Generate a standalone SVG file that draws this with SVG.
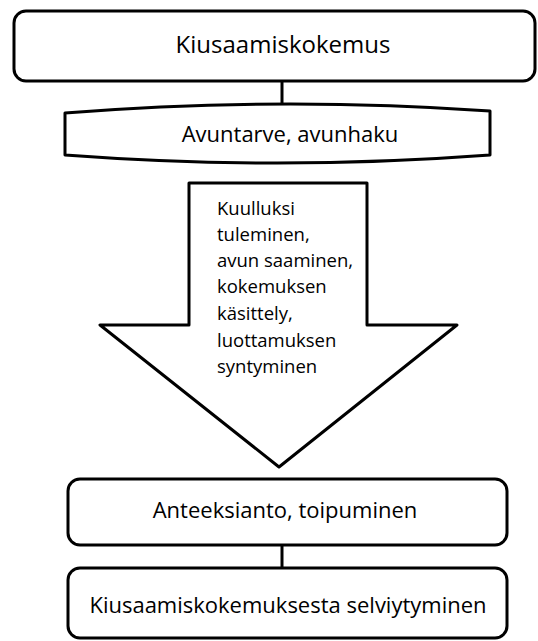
<svg xmlns="http://www.w3.org/2000/svg" width="538" height="641" viewBox="0 0 538 641">
<style>
.shape{fill:#fff;stroke:#000;stroke-width:3;stroke-linejoin:round}
.conn{stroke:#000;stroke-width:3;fill:none}
text{font-family:"Open Sans","Noto Sans","Liberation Sans",sans-serif;fill:#000}
.c{text-anchor:middle}
</style>
<rect width="538" height="641" fill="#fff"/>
<g id="connectors">
<line class="conn" x1="282" y1="82" x2="282" y2="106"/>
<line class="conn" x1="282" y1="545" x2="282" y2="568"/>
</g>
<g id="n1">
<rect class="shape" x="14" y="11" width="521" height="70" rx="12"/>
<text class="c" x="283" y="53" font-size="24">Kiusaamiskokemus</text>
</g>
<g id="n2">
<path class="shape" d="M65,113 Q277,96 490,111 L490,155 Q277,171 65,155 Z"/>
<text class="c" x="290" y="142" font-size="22">Avuntarve, avunhaku</text>
</g>
<g id="n3">
<path class="shape" d="M189,183 L367,183 L367,325 L457,325 L279,467 L100,325 L189,325 Z"/>
<text x="217" y="215" font-size="18.5">Kuulluksi</text>
<text x="217" y="241" font-size="18.5">tuleminen,</text>
<text x="217" y="267" font-size="18.5">avun saaminen,</text>
<text x="217" y="293" font-size="18.5">kokemuksen</text>
<text x="217" y="320" font-size="18.5">käsittely,</text>
<text x="217" y="347" font-size="18.5">luottamuksen</text>
<text x="217" y="373" font-size="18.5">syntyminen</text>
</g>
<g id="n4">
<rect class="shape" x="68" y="479" width="439" height="66" rx="12"/>
<text class="c" x="285" y="518" font-size="22">Anteeksianto, toipuminen</text>
</g>
<g id="n5">
<rect class="shape" x="68" y="568" width="439" height="70" rx="12"/>
<text class="c" x="288" y="613" font-size="22">Kiusaamiskokemuksesta selviytyminen</text>
</g>
</svg>
